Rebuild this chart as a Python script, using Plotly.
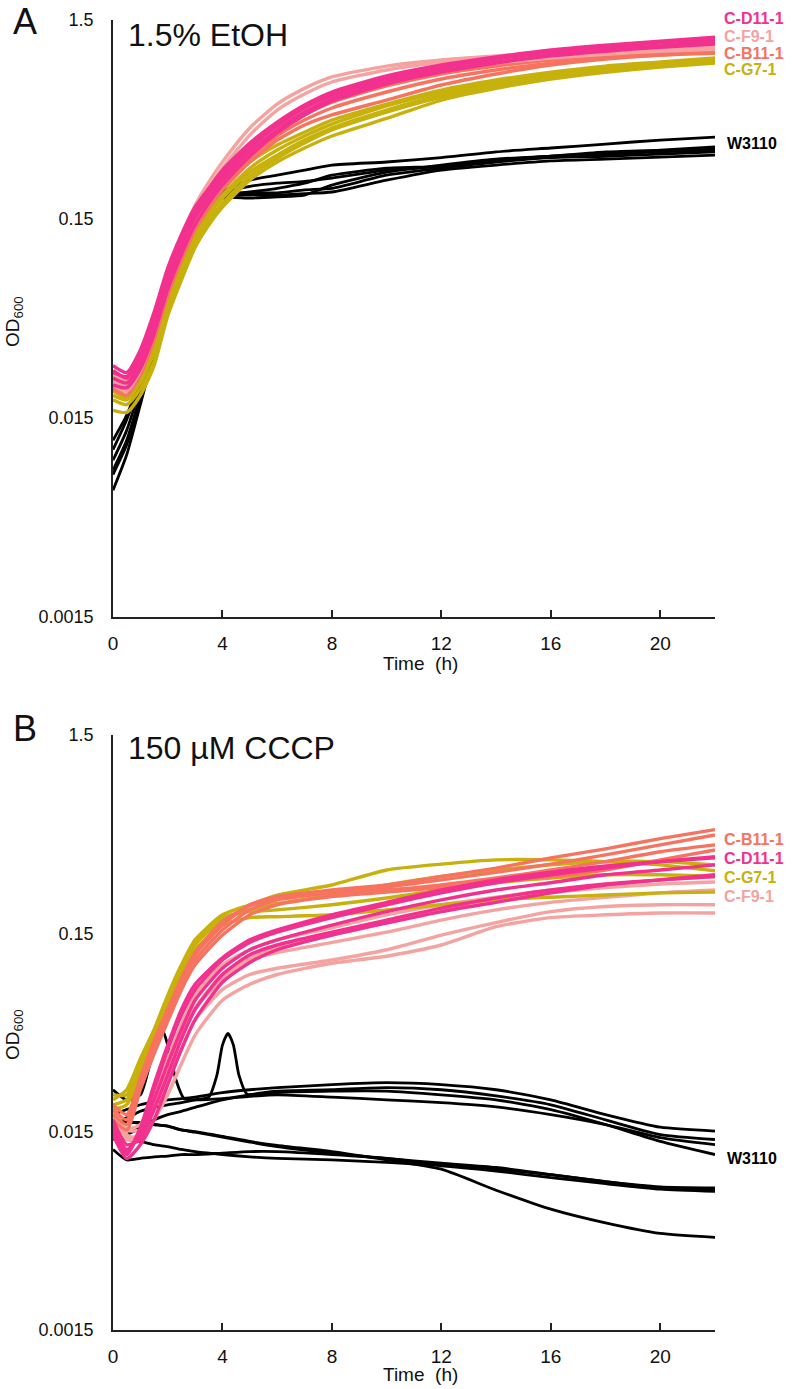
import math
import plotly.graph_objects as go

# ---------------- Panel A: 1.5% EtOH ----------------
T_A = [0, 0.5, 1, 1.5, 2, 2.5, 3, 3.5, 4, 5, 6, 7, 8, 10, 12, 14, 16, 18, 20, 22]

W3110_A1 = [0.0104, 0.0147, 0.023, 0.0395, 0.066, 0.099, 0.135, 0.169, 0.205, 0.235, 0.249, 0.264, 0.28, 0.29, 0.305, 0.326, 0.341, 0.357, 0.374, 0.387]
W3110_A2 = [0.0082, 0.0116, 0.0195, 0.035, 0.06, 0.091, 0.128, 0.163, 0.196, 0.205, 0.214, 0.227, 0.249, 0.27, 0.276, 0.297, 0.31, 0.326, 0.333, 0.345]
W3110_A3 = [0.0065, 0.0098, 0.0175, 0.032, 0.057, 0.087, 0.124, 0.158, 0.191, 0.191, 0.194, 0.198, 0.222, 0.258, 0.28, 0.30, 0.31, 0.322, 0.33, 0.337]
W3110_A4 = [0.0116, 0.0155, 0.0238, 0.041, 0.066, 0.099, 0.135, 0.167, 0.198, 0.203, 0.203, 0.21, 0.214, 0.249, 0.27, 0.29, 0.305, 0.31, 0.318, 0.326]
W3110_A5 = [0.0092, 0.013, 0.0213, 0.037, 0.063, 0.095, 0.132, 0.166, 0.201, 0.219, 0.227, 0.232, 0.241, 0.264, 0.276, 0.294, 0.307, 0.318, 0.326, 0.333]
W3110_A6 = [0.0078, 0.011, 0.0185, 0.034, 0.059, 0.089, 0.127, 0.161, 0.194, 0.198, 0.198, 0.201, 0.205, 0.235, 0.264, 0.28, 0.294, 0.30, 0.307, 0.314]

F9_A1 = [0.023, 0.022, 0.0286, 0.044, 0.076, 0.114, 0.163, 0.214, 0.27, 0.396, 0.529, 0.637, 0.732, 0.841, 0.922, 0.978, 1.02, 1.06, 1.08, 1.11]
F9_A2 = [0.0247, 0.023, 0.0301, 0.047, 0.081, 0.124, 0.176, 0.23, 0.29, 0.43, 0.567, 0.68, 0.776, 0.88, 0.944, 0.99, 1.035, 1.07, 1.095, 1.12]
F9_A3 = [0.022, 0.0205, 0.026, 0.0395, 0.066, 0.099, 0.14, 0.18, 0.222, 0.314, 0.42, 0.517, 0.608, 0.732, 0.841, 0.922, 0.99, 1.045, 1.08, 1.11]
F9_A4 = [0.0238, 0.0222, 0.0275, 0.042, 0.07, 0.105, 0.148, 0.191, 0.235, 0.333, 0.44, 0.542, 0.63, 0.749, 0.841, 0.911, 0.967, 1.01, 1.045, 1.07]

G7_A1 = [0.0205, 0.019, 0.023, 0.033, 0.059, 0.088, 0.125, 0.162, 0.198, 0.27, 0.333, 0.392, 0.45, 0.555, 0.652, 0.732, 0.803, 0.86, 0.90, 0.944]
G7_A2 = [0.0185, 0.0175, 0.021, 0.029, 0.052, 0.078, 0.113, 0.148, 0.18, 0.246, 0.303, 0.361, 0.42, 0.517, 0.615, 0.70, 0.776, 0.83, 0.88, 0.922]
G7_A3 = [0.0213, 0.0195, 0.0247, 0.036, 0.065, 0.095, 0.135, 0.176, 0.214, 0.29, 0.353, 0.41, 0.471, 0.567, 0.667, 0.749, 0.82, 0.88, 0.922, 0.967]
G7_A4 = [0.0164, 0.016, 0.0195, 0.0275, 0.049, 0.074, 0.108, 0.14, 0.172, 0.235, 0.29, 0.341, 0.392, 0.48, 0.594, 0.68, 0.758, 0.82, 0.87, 0.911]
G7_A5 = [0.0195, 0.0185, 0.0225, 0.032, 0.055, 0.083, 0.118, 0.157, 0.191, 0.258, 0.314, 0.374, 0.43, 0.529, 0.63, 0.715, 0.785, 0.841, 0.891, 0.933]

B11_A1 = [0.023, 0.022, 0.0275, 0.042, 0.07, 0.105, 0.145, 0.187, 0.227, 0.314, 0.41, 0.50, 0.58, 0.70, 0.803, 0.88, 0.944, 0.99, 1.02, 1.045]
B11_A2 = [0.021, 0.0195, 0.0247, 0.037, 0.062, 0.093, 0.132, 0.17, 0.21, 0.29, 0.374, 0.445, 0.50, 0.594, 0.707, 0.803, 0.891, 0.955, 1.00, 1.02]
B11_A3 = [0.0247, 0.023, 0.029, 0.046, 0.078, 0.113, 0.157, 0.198, 0.241, 0.333, 0.43, 0.517, 0.594, 0.715, 0.82, 0.90, 0.967, 1.01, 1.045, 1.07]
B11_A4 = [0.0213, 0.0205, 0.0254, 0.038, 0.065, 0.095, 0.135, 0.174, 0.214, 0.303, 0.392, 0.471, 0.542, 0.652, 0.758, 0.841, 0.911, 0.967, 1.00, 1.035]

D11_A1 = [0.026, 0.0238, 0.031, 0.048, 0.081, 0.121, 0.166, 0.21, 0.255, 0.349, 0.45, 0.548, 0.637, 0.767, 0.88, 0.967, 1.045, 1.11, 1.16, 1.215]
D11_A2 = [0.0238, 0.0225, 0.0286, 0.043, 0.072, 0.108, 0.152, 0.191, 0.235, 0.326, 0.42, 0.517, 0.601, 0.732, 0.841, 0.922, 1.00, 1.06, 1.11, 1.16]
D11_A3 = [0.0275, 0.0254, 0.033, 0.051, 0.085, 0.125, 0.172, 0.214, 0.264, 0.361, 0.46, 0.561, 0.652, 0.785, 0.891, 0.978, 1.06, 1.12, 1.175, 1.23]
D11_A4 = [0.022, 0.0213, 0.0265, 0.0395, 0.066, 0.099, 0.14, 0.18, 0.222, 0.31, 0.406, 0.50, 0.587, 0.715, 0.82, 0.911, 0.99, 1.045, 1.095, 1.135]
D11_A5 = [0.0254, 0.0243, 0.0301, 0.046, 0.078, 0.115, 0.161, 0.203, 0.246, 0.341, 0.44, 0.542, 0.623, 0.758, 0.87, 0.955, 1.035, 1.095, 1.15, 1.19]

# ---------------- Panel B: 150 uM CCCP ----------------
T_B = [0, 0.5, 1, 1.5, 2, 2.5, 3, 4, 5, 6, 8, 10, 12, 14, 16, 18, 20, 22]
T_B_SPIKE4 = [0, 0.5, 1, 1.5, 2, 2.5, 3, 3.5, 3.8, 4.0, 4.2, 4.4, 4.6, 4.9, 5.5, 6, 8, 10, 12, 14, 16, 18, 20, 22]
T_B_SPIKE2 = [0, 0.5, 1, 1.3, 1.6, 1.8, 2.0, 2.3, 2.6, 3, 4, 5, 6, 8, 10, 12, 14, 16, 18, 20, 22]

W3110_B1 = [0.0183, 0.0194, 0.0205, 0.0212, 0.0217, 0.022, 0.0224, 0.0236, 0.0244, 0.025, 0.0259, 0.0265, 0.0259, 0.0244, 0.0217, 0.0183, 0.0158, 0.0151]
W3110_B2 = [0.0172, 0.0176, 0.019, 0.0199, 0.0205, 0.021, 0.0217, 0.0224, 0.029, 0.041, 0.047, 0.041, 0.029, 0.0232, 0.0236, 0.024, 0.0244, 0.025, 0.0244, 0.0227, 0.0205, 0.0172, 0.0145, 0.0137]
W3110_B3 = [0.0244, 0.0217, 0.023, 0.031, 0.044, 0.049, 0.041, 0.0274, 0.022, 0.0217, 0.022, 0.0226, 0.023, 0.0224, 0.0217, 0.021, 0.02, 0.0183, 0.0163, 0.014, 0.0129]
W3110_B4 = [0.0137, 0.0145, 0.0157, 0.0172, 0.0183, 0.019, 0.0199, 0.0217, 0.023, 0.0236, 0.024, 0.024, 0.023, 0.0217, 0.0194, 0.0163, 0.0134, 0.0115]
W3110_B5 = [0.0122, 0.0108, 0.011, 0.0112, 0.0113, 0.0115, 0.0115, 0.0117, 0.0119, 0.0119, 0.0115, 0.011, 0.0102, 0.0097, 0.0091, 0.0084, 0.0078, 0.0077]
W3110_B6 = [0.0172, 0.0168, 0.0166, 0.0163, 0.016, 0.0153, 0.0149, 0.0141, 0.0133, 0.0126, 0.0117, 0.011, 0.0104, 0.0099, 0.0091, 0.0084, 0.0079, 0.0078]
W3110_B7 = [0.0172, 0.0168, 0.0166, 0.0163, 0.016, 0.0153, 0.015, 0.0142, 0.0134, 0.0128, 0.0119, 0.0108, 0.0097, 0.0076, 0.0061, 0.0052, 0.0046, 0.0044]
W3110_B8 = [0.0145, 0.0137, 0.0134, 0.0129, 0.0126, 0.0122, 0.0119, 0.0115, 0.0112, 0.011, 0.0108, 0.0105, 0.0101, 0.0095, 0.0088, 0.0082, 0.0077, 0.0075]

F9_B1 = [0.0194, 0.0145, 0.0137, 0.0172, 0.023, 0.033, 0.046, 0.069, 0.083, 0.093, 0.106, 0.115, 0.131, 0.162, 0.18, 0.186, 0.19, 0.19]
F9_B2 = [0.0183, 0.014, 0.0145, 0.0194, 0.0274, 0.039, 0.055, 0.078, 0.093, 0.10, 0.11, 0.124, 0.147, 0.17, 0.193, 0.205, 0.209, 0.209]
F9_B3 = [0.0205, 0.0153, 0.0153, 0.0217, 0.032, 0.046, 0.063, 0.093, 0.11, 0.12, 0.135, 0.152, 0.175, 0.197, 0.215, 0.228, 0.24, 0.248]
F9_B4 = [0.019, 0.0137, 0.014, 0.0205, 0.031, 0.045, 0.062, 0.089, 0.113, 0.126, 0.147, 0.17, 0.197, 0.221, 0.24, 0.255, 0.266, 0.272]
F9_B5 = [0.0199, 0.0155, 0.0163, 0.023, 0.035, 0.052, 0.073, 0.104, 0.124, 0.139, 0.16, 0.186, 0.209, 0.228, 0.248, 0.263, 0.279, 0.29]

G7_B1 = [0.0217, 0.0244, 0.035, 0.049, 0.073, 0.104, 0.139, 0.186, 0.209, 0.234, 0.263, 0.313, 0.335, 0.352, 0.352, 0.345, 0.332, 0.31]
G7_B2 = [0.0205, 0.0217, 0.031, 0.046, 0.069, 0.098, 0.131, 0.175, 0.197, 0.212, 0.234, 0.263, 0.29, 0.313, 0.332, 0.345, 0.345, 0.332]
G7_B3 = [0.0194, 0.0205, 0.029, 0.044, 0.065, 0.093, 0.124, 0.165, 0.18, 0.182, 0.186, 0.197, 0.209, 0.221, 0.228, 0.234, 0.24, 0.242]
G7_B4 = [0.023, 0.023, 0.033, 0.048, 0.071, 0.10, 0.134, 0.18, 0.193, 0.197, 0.209, 0.226, 0.248, 0.27, 0.285, 0.296, 0.296, 0.29]

B11_B1 = [0.0194, 0.0172, 0.0274, 0.041, 0.060, 0.087, 0.117, 0.165, 0.209, 0.23, 0.248, 0.263, 0.29, 0.32, 0.36, 0.40, 0.45, 0.50]
B11_B2 = [0.0183, 0.0163, 0.0259, 0.039, 0.056, 0.083, 0.11, 0.156, 0.197, 0.221, 0.24, 0.257, 0.279, 0.305, 0.335, 0.373, 0.419, 0.47]
B11_B3 = [0.0205, 0.0183, 0.028, 0.043, 0.062, 0.089, 0.12, 0.172, 0.206, 0.226, 0.24, 0.248, 0.263, 0.285, 0.313, 0.345, 0.387, 0.419]
B11_B4 = [0.0172, 0.0153, 0.0244, 0.037, 0.054, 0.078, 0.104, 0.147, 0.186, 0.209, 0.23, 0.242, 0.255, 0.272, 0.29, 0.313, 0.352, 0.395]

D11_B1 = [0.0163, 0.0122, 0.0145, 0.0217, 0.033, 0.049, 0.069, 0.10, 0.124, 0.139, 0.165, 0.193, 0.221, 0.248, 0.27, 0.296, 0.313, 0.332]
D11_B2 = [0.0153, 0.0115, 0.0153, 0.0244, 0.039, 0.058, 0.078, 0.11, 0.135, 0.152, 0.18, 0.209, 0.24, 0.27, 0.296, 0.32, 0.345, 0.365]
D11_B3 = [0.0172, 0.0129, 0.0137, 0.0194, 0.029, 0.044, 0.062, 0.093, 0.117, 0.131, 0.152, 0.175, 0.201, 0.226, 0.248, 0.266, 0.279, 0.29]
D11_B4 = [0.0155, 0.0118, 0.0157, 0.0259, 0.041, 0.062, 0.083, 0.113, 0.139, 0.156, 0.186, 0.215, 0.248, 0.279, 0.305, 0.328, 0.345, 0.36]
D11_B5 = [0.0145, 0.011, 0.0129, 0.0172, 0.0259, 0.039, 0.055, 0.085, 0.107, 0.124, 0.147, 0.169, 0.193, 0.215, 0.24, 0.263, 0.279, 0.296]

X_TICKS = [0, 4, 8, 12, 16, 20]
Y_TICKS = [0.0015, 0.015, 0.15, 1.5]
Y_TICK_TEXT = ["0.0015", "0.015", "0.15", "1.5"]

COL_W = "#000000"
COL_D11 = "#F2318F"
COL_F9 = "#F4A3A1"
COL_B11 = "#F7735F"
COL_G7 = "#C7B10C"

FONT = "Liberation Sans, Arial, sans-serif"

fig = go.Figure()


def add_lines(xs, series, color, width, xa, ya):
    for ys in series:
        fig.add_trace(go.Scatter(
            x=xs, y=ys, mode="lines",
            line=dict(color=color, width=width, shape="spline", smoothing=0.6),
            xaxis=xa, yaxis=ya, showlegend=False, hoverinfo="skip"))


# Panel A
add_lines(T_A, [W3110_A1, W3110_A2, W3110_A3, W3110_A4, W3110_A5, W3110_A6], COL_W, 2.8, "x", "y")
add_lines(T_A, [G7_A1, G7_A2, G7_A3, G7_A4, G7_A5], COL_G7, 3.4, "x", "y")
add_lines(T_A, [B11_A1, B11_A2, B11_A3, B11_A4], COL_B11, 3.4, "x", "y")
add_lines(T_A, [F9_A1, F9_A2, F9_A3, F9_A4], COL_F9, 3.4, "x", "y")
add_lines(T_A, [D11_A1, D11_A2, D11_A3, D11_A4, D11_A5], COL_D11, 3.4, "x", "y")

# Panel B
add_lines(T_B, [W3110_B1, W3110_B4, W3110_B5, W3110_B6, W3110_B7, W3110_B8], COL_W, 2.8, "x2", "y2")
add_lines(T_B_SPIKE4, [W3110_B2], COL_W, 2.8, "x2", "y2")
add_lines(T_B_SPIKE2, [W3110_B3], COL_W, 2.8, "x2", "y2")
add_lines(T_B, [F9_B1, F9_B2, F9_B3, F9_B4, F9_B5], COL_F9, 3.4, "x2", "y2")
add_lines(T_B, [G7_B1, G7_B2, G7_B3, G7_B4], COL_G7, 3.4, "x2", "y2")
add_lines(T_B, [B11_B1, B11_B2, B11_B3, B11_B4], COL_B11, 3.4, "x2", "y2")
add_lines(T_B, [D11_B1, D11_B2, D11_B3, D11_B4, D11_B5], COL_D11, 3.4, "x2", "y2")

# layout geometry (pixel based)
W, H = 800, 1389
ML, MR, MT, MB = 113, 85, 20, 59
PW = W - ML - MR
PH = H - MT - MB


def px(xp):
    return (xp - ML) / PW


def py(yp):
    return (H - MB - yp) / PH


xax = dict(range=[0, 22], tickvals=X_TICKS, ticks="inside", ticklen=7, tickwidth=1.5,
           tickcolor="#222", showline=True, linecolor="#222", linewidth=1.6,
           showgrid=False, zeroline=False, tickfont=dict(family=FONT, size=19, color="#111"),
           ticklabelstandoff=8, automargin=False)
yax = dict(type="log", range=[math.log10(0.0015), math.log10(1.5)], tickvals=Y_TICKS,
           ticktext=Y_TICK_TEXT, ticks="", showline=True, linecolor="#222", linewidth=1.6,
           showgrid=False, zeroline=False, tickfont=dict(family=FONT, size=18, color="#111"),
           ticklabelstandoff=14, automargin=False)

fig.update_layout(
    width=W, height=H,
    margin=dict(l=ML, r=MR, t=MT, b=MB),
    paper_bgcolor="white", plot_bgcolor="white",
    showlegend=False,
    xaxis=dict(xax, domain=[0, 1], anchor="y"),
    yaxis=dict(yax, domain=[py(617), py(20)], anchor="x"),
    xaxis2=dict(xax, domain=[0, 1], anchor="y2"),
    yaxis2=dict(yax, domain=[py(1330), py(735)], anchor="x2"),
)

ann = []


def text(x, y, s, size, color="#111", bold=False, xanchor="left", angle=0):
    ann.append(dict(x=px(x), y=py(y), xref="paper", yref="paper", text=("<b>%s</b>" % s) if bold else s,
                    showarrow=False, xanchor=xanchor, yanchor="middle", textangle=angle,
                    font=dict(family=FONT, size=size, color=color)))


# panel letters & titles
text(25, 22, "A", 36, xanchor="center")
text(25, 728, "B", 36, xanchor="center")
text(126, 35, "1.5% EtOH", 32)
text(126, 748, "150 µM CCCP", 32)

# axis titles
text(14, 322, "OD<sub>600</sub>", 19, xanchor="center", angle=-90)
text(14, 1035, "OD<sub>600</sub>", 19, xanchor="center", angle=-90)
text(420, 663, "Time  (h)", 19, xanchor="center")
text(420, 1374, "Time  (h)", 19, xanchor="center")

# right-hand labels, panel A
text(722, 19, "C-D11-1", 16, COL_D11, True)
text(722, 36, "C-F9-1", 16, COL_F9, True)
text(722, 53, "C-B11-1", 16, COL_B11, True)
text(722, 70, "C-G7-1", 16, COL_G7, True)
text(725, 143, "W3110", 16, COL_W, True)

# right-hand labels, panel B
text(722, 839, "C-B11-1", 16, COL_B11, True)
text(722, 858, "C-D11-1", 16, COL_D11, True)
text(722, 877, "C-G7-1", 16, COL_G7, True)
text(722, 896, "C-F9-1", 16, COL_F9, True)
text(725, 1158, "W3110", 16, COL_W, True)

fig.update_layout(annotations=ann)
fig.write_html("out.html", config={"displayModeBar": False},
               post_script="document.body.style.margin='0';document.body.style.padding='0';")
